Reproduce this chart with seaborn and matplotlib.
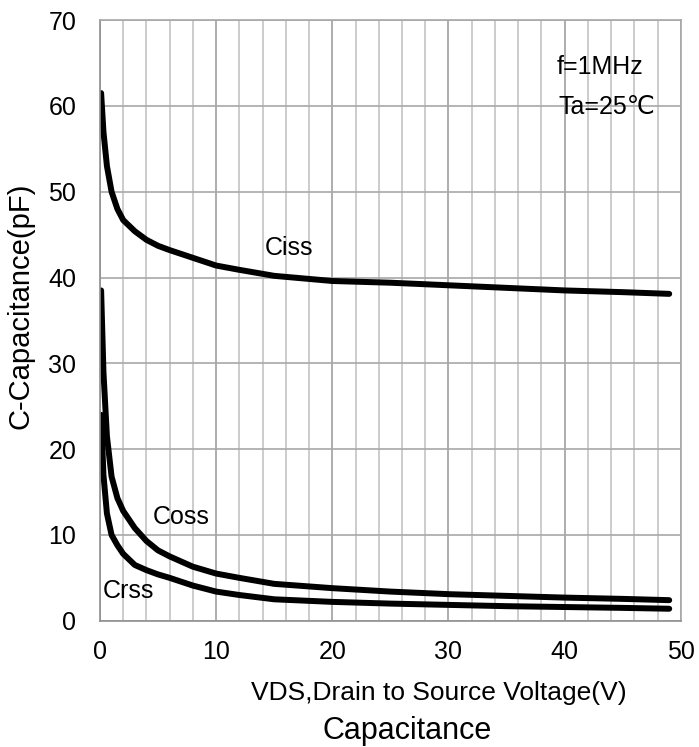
import numpy as np
import pandas as pd
import seaborn as sns
import matplotlib.pyplot as plt
from matplotlib.ticker import MultipleLocator


vds = [0.1, 0.3, 0.6, 1, 1.5, 2, 3, 4, 5, 6, 8, 10, 12, 15, 20, 25, 30, 35, 40, 45, 49]
ciss = [61.5, 57, 53, 50, 48, 46.7, 45.4, 44.4, 43.7, 43.2, 42.3, 41.4, 40.9, 40.2,
        39.6, 39.4, 39.1, 38.8, 38.5, 38.3, 38.1]
coss = [38.5, 29, 21.5, 16.8, 14.3, 12.8, 10.8, 9.3, 8.2, 7.5, 6.3, 5.5, 5.0, 4.3,
        3.8, 3.4, 3.1, 2.9, 2.7, 2.55, 2.4]
crss = [24, 17, 12.5, 10, 8.8, 7.8, 6.5, 5.9, 5.4, 5.0, 4.1, 3.4, 3.0, 2.5,
        2.2, 2.0, 1.85, 1.7, 1.6, 1.5, 1.4]

df = pd.DataFrame({'vds': vds * 3,
                   'cap': ciss + coss + crss,
                   'curve': ['Ciss'] * len(vds) + ['Coss'] * len(vds) + ['Crss'] * len(vds)})

sns.set_theme(style="white")
plt.rcParams['font.family'] = ['Liberation Sans', 'DejaVu Sans']
plt.rcParams['text.color'] = 'black'

fig, ax = plt.subplots(figsize=(6.99, 7.47), dpi=100)
fig.subplots_adjust(left=0.143, right=0.974, top=0.973, bottom=0.169)

sns.lineplot(data=df, x='vds', y='cap', units='curve', estimator=None,
             color='black', linewidth=4.3, solid_capstyle='round', ax=ax)

ax.set_xlim(0, 50)
ax.set_ylim(0, 70)
ax.xaxis.set_major_locator(MultipleLocator(10))
ax.xaxis.set_minor_locator(MultipleLocator(2))
ax.yaxis.set_major_locator(MultipleLocator(10))
ax.grid(which='minor', axis='x', color='#c4c4c4', linewidth=1.2)
ax.grid(which='major', axis='x', color='#a0a0a0', linewidth=1.2)
ax.grid(which='major', axis='y', color='#a8a8a8', linewidth=1.2)
ax.set_axisbelow(True)
for side in ['top', 'right']:
    ax.spines[side].set_color('#a8a8a8')
for side in ['left', 'bottom']:
    ax.spines[side].set_color('#909090')
for s in ax.spines.values():
    s.set_linewidth(1.2)

ax.tick_params(axis='both', which='major', labelsize=18, labelcolor='black',
               direction='out', length=6, width=1.2, color='#909090')
ax.tick_params(axis='y', which='major', pad=11)
ax.tick_params(axis='x', which='major', pad=8)
ax.tick_params(axis='x', which='minor', length=0)

ax.set_xlabel('')
ax.set_ylabel('')
fig.text(0.628, 0.063, 'VDS,Drain to Source Voltage(V)', fontsize=19,
         ha='center', va='baseline', color='black')
fig.text(0.029, 0.590, 'C-Capacitance(pF)', fontsize=21, rotation=90,
         ha='center', va='center', color='black')
fig.text(0.582, 0.0107, 'Capacitance', fontsize=22, ha='center', va='baseline',
         color='black')

ax.text(14.2, 42.6, 'Ciss', fontsize=18, ha='left', va='baseline', color='black')
ax.text(4.57, 11.3, 'Coss', fontsize=18, ha='left', va='baseline', color='black')
ax.text(0.26, 2.64, 'Crss', fontsize=18, ha='left', va='baseline', color='black')
ax.text(39.3, 63.7, 'f=1MHz', fontsize=18, ha='left', va='baseline', color='black')
ax.text(39.5, 59.1, 'Ta=25℃', fontsize=18, ha='left', va='baseline', color='black')

plt.savefig('out.png', dpi=100)
plt.close(fig)
